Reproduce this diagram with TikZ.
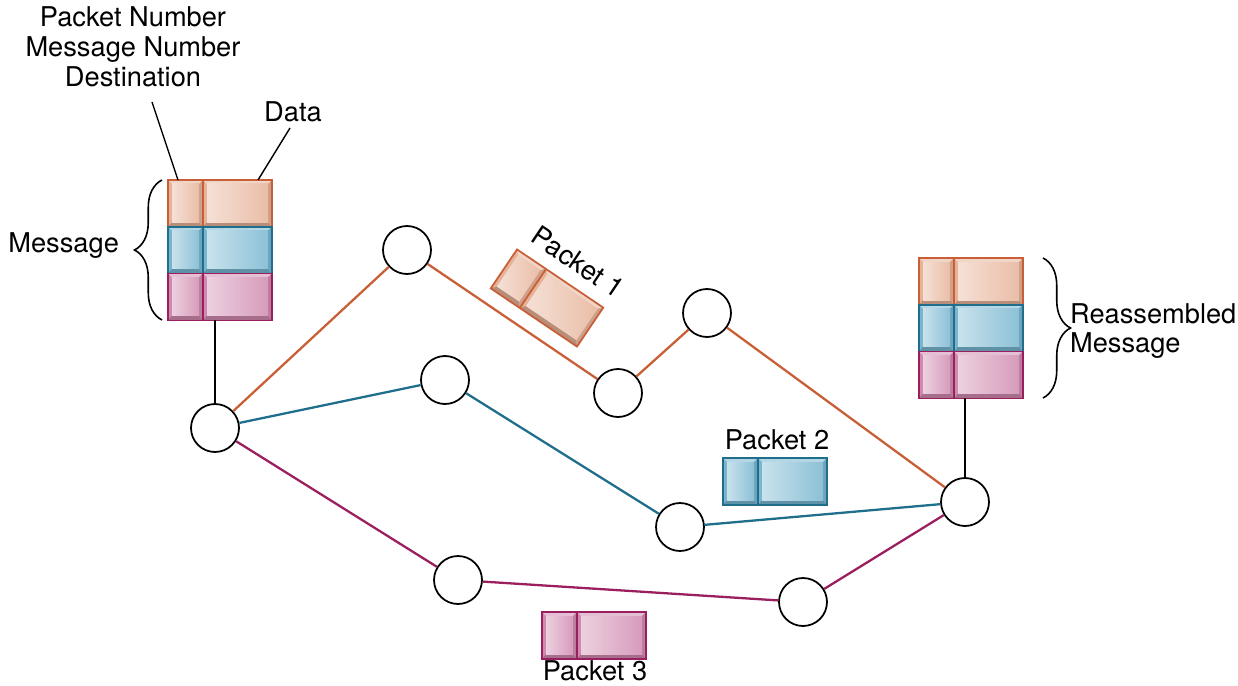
\documentclass[tikz,border=0pt]{standalone}
\usepackage{fontspec}
\setmainfont{TeX Gyre Heros}
\usetikzlibrary{decorations.pathreplacing}

\definecolor{pktorange}{RGB}{230,178,152}
\definecolor{pktblue}{RGB}{120,182,208}
\definecolor{pktpink}{RGB}{208,138,175}
\definecolor{lineorange}{RGB}{200,95,55}
\definecolor{lineblue}{RGB}{30,110,140}
\definecolor{linepink}{RGB}{155,30,95}

\tikzset{
  router/.style={draw, circle, fill=white, line width=1pt, minimum size=0.96cm, inner sep=0pt},
  link/.style={line width=1.3pt},
  label/.style={font=\fontsize{15.5}{17}\selectfont, align=center, inner sep=1pt},
  lead/.style={line width=0.8pt},
  brc/.style={decorate, decoration={brace, amplitude=0.55cm}, line width=0.9pt}
}

% one bevelled cell: x1, y1, x2, y2, colour
\newcommand{\bevcell}[5]{%
  \fill[#5] (#1,#2) rectangle (#3,#4);
  \fill[#5!55!white] (#1,#2) -- (#3,#2) -- ({#3-4},{#2+4}) -- ({#1+4},{#2+4}) -- cycle;
  \fill[#5!80!black] (#1,#4) -- (#3,#4) -- ({#3-4},{#4-5}) -- ({#1+4},{#4-5}) -- cycle;
  \fill[#5!90!black] (#3,#2) -- (#3,#4) -- ({#3-4},{#4-5}) -- ({#3-4},{#2+4}) -- cycle;
  \shade[left color=#5!40!white, right color=#5!85!white] ({#1+4},{#2+4}) rectangle ({#3-4},{#4-5});
}
% one packet: x, y (top left), fill, line
\newcommand{\drawpacket}[4]{%
  \bevcell{#1}{#2}{#1+35}{#2+47}{#3}
  \bevcell{#1+35}{#2}{#1+104}{#2+47}{#3}
  \draw[#4, line width=1pt] (#1,#2) rectangle ({#1+104},{#2+47});
  \draw[#4, line width=1pt] ({#1+35},#2) -- ({#1+35},{#2+47});
}

\begin{document}
\begin{tikzpicture}[x=0.02cm, y=-0.02cm]
  \useasboundingbox (0,0) rectangle (1238,686);

  % routers
  \node[router](A) at(215,428){};
  \node[router](B) at(407,250){};
  \node[router](C) at(618,393){};
  \node[router](D) at(707,313){};
  \node[router](E) at(445,380){};
  \node[router](F) at(680,527){};
  \node[router](G) at(965,502){};
  \node[router](H) at(458,580){};
  \node[router](I) at(803,602){};

  % paths
  \foreach \x/\y in {A/B, B/C, C/D, D/G}{
    \draw[link, lineorange](\x)--(\y);
  }
  \foreach \x/\y in {A/E, E/F, F/G}{
    \draw[link, lineblue](\x)--(\y);
  }
  \foreach \x/\y in {A/H, H/I, I/G}{
    \draw[link, linepink](\x)--(\y);
  }

  % message at the sender
  \foreach \c/\l [count=\i from 0] in {pktorange/lineorange, pktblue/lineblue, pktpink/linepink}{
    \drawpacket{168}{180+46.7*\i}{\c}{\l}
  }
  \coordinate(msgbot) at(215,320);
  \draw[lead](msgbot)--(A);

  % reassembled message
  \foreach \c/\l [count=\i from 0] in {pktorange/lineorange, pktblue/lineblue, pktpink/linepink}{
    \drawpacket{919}{258+46.7*\i}{\c}{\l}
  }
  \coordinate(asmbot) at(965,398);
  \draw[lead](asmbot)--(G);

  % packets on their way
  \begin{scope}[shift={(547,298)}, rotate=-34]
    \drawpacket{-52}{-23.5}{pktorange}{lineorange}
  \end{scope}
  \drawpacket{723}{458}{pktblue}{lineblue}
  \drawpacket{542}{612}{pktpink}{linepink}

  % labels
  \node[label](hdr) at(133,47){Packet Number\\Message Number\\Destination};
  \node[label](data) at(293,112){Data};
  \coordinate(hdrtip) at(178,180);
  \coordinate(datatip) at(258,180);
  \draw[lead](152,102)--(hdrtip);
  \draw[lead](290,128)--(datatip);
  \node[label, rotate=-34](p1) at(578,262){Packet 1};
  \node[label](p2) at(777,440){Packet 2};
  \node[label](p3) at(595,671){Packet 3};

  % braces
  \draw[brc](162,320)--(162,180);
  \node[label, anchor=east](msg) at(121,246){Message};
  \draw[brc](1043,258)--(1043,398);
  \node[label, anchor=west, align=left](rasm) at(1068,331){Reassembled\\Message};
\end{tikzpicture}
\end{document}
